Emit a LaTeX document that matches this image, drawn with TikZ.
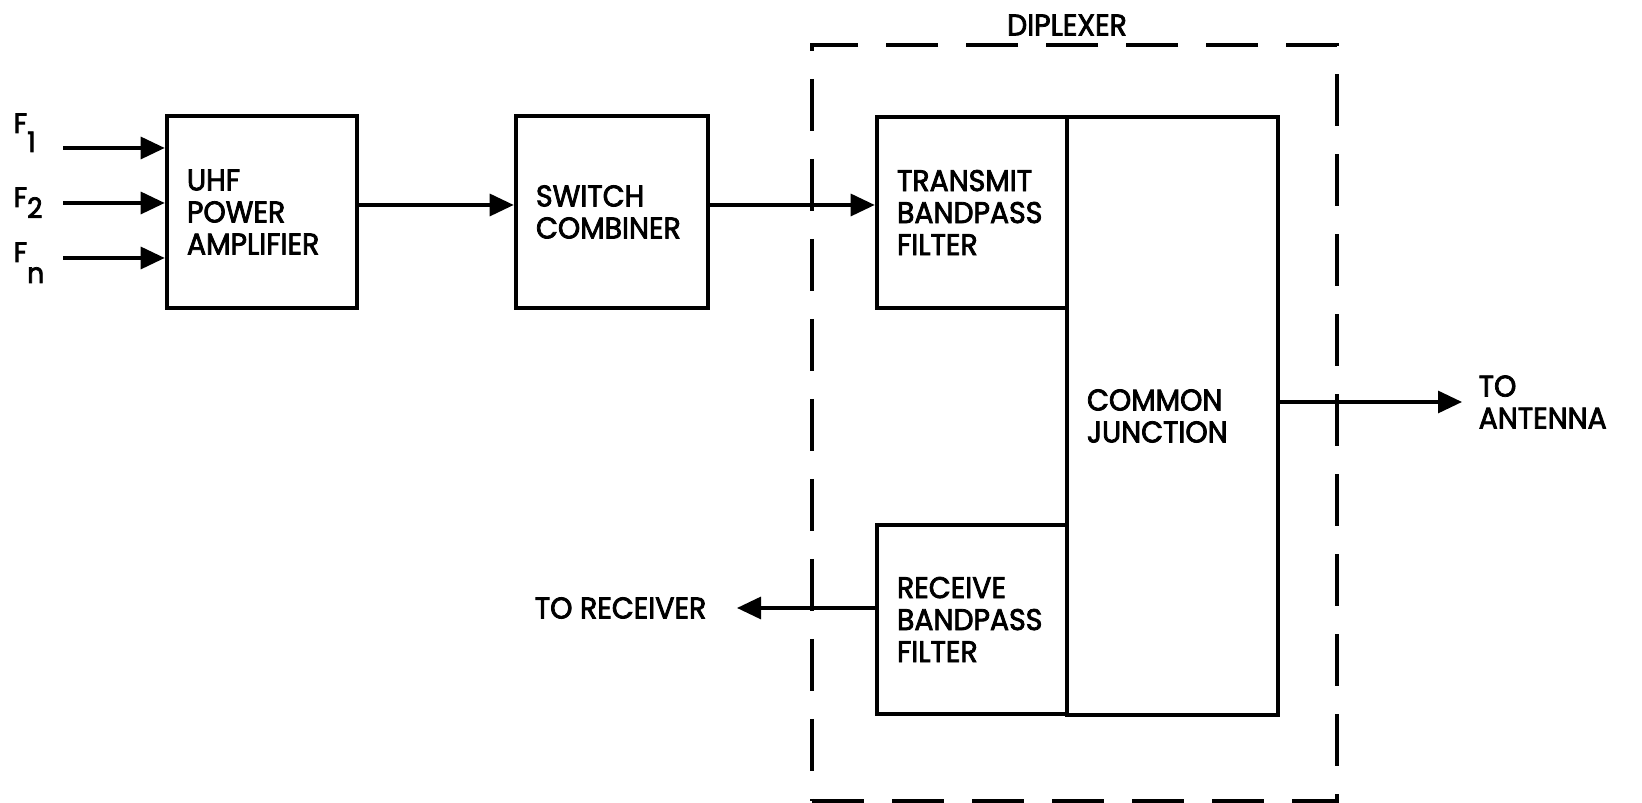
\documentclass[tikz,border=0pt]{standalone}
\usepackage{fontspec}
\setmainfont{Poppins}[FakeBold=2.6, FakeStretch=0.95]
\usetikzlibrary{arrows.meta}

\begin{document}
\begin{tikzpicture}[
    every node/.style={font=\fontsize{8.5}{9.1}\selectfont},
    >={Triangle[length=2.4mm, width=2.2mm]},
    blockbox/.style={draw, line width=1.3pt, align=left, inner xsep=0.2cm, inner ysep=0pt},
    sigline/.style={->, line width=0.9pt},
    lbl/.style={inner sep=0pt},
]
\useasboundingbox (0,0) rectangle (16.42,8.03);

% === Inputs ===
\node[lbl, anchor=base west, font=\fontsize{8}{8}\selectfont] (lf1) at (0.13,6.70) {F\raisebox{-0.19cm}{1}};
\node[lbl, anchor=base west, font=\fontsize{8}{8}\selectfont] (lf2) at (0.13,5.96) {F\raisebox{-0.11cm}{2}};
\node[lbl, anchor=base west, font=\fontsize{8}{8}\selectfont] (lfn) at (0.13,5.41) {F\raisebox{-0.21cm}{n}};
\coordinate (f1) at (0.63,6.55);
\coordinate (f2) at (0.63,6.00);
\coordinate (fn) at (0.63,5.45);

% === UHF power amplifier ===
\node[blockbox, text width=1.5cm, minimum height=1.92cm] (amp) at (2.62,5.91) {UHF\\POWER\\AMPLIFIER};

% === Switch combiner ===
\node[blockbox, text width=1.52cm, minimum height=1.92cm] (sw) at (6.12,5.91) {SWITCH\\COMBINER};

% === Diplexer ===
\node[draw, dashed, dash pattern=on 0.52cm off 0.28cm, line width=0.9pt, minimum width=5.25cm, minimum height=7.56cm, inner sep=0pt] (dip) at (10.745,3.80) {};
\node[lbl] (diplbl) at (10.67,7.78) {DIPLEXER};
\node[blockbox, text width=1.71cm, minimum height=5.98cm] (cj) at (11.725,3.87) {COMMON\\JUNCTION};
\node[blockbox, text width=1.5cm, minimum height=1.91cm] (tx) at (9.72,5.905) {TRANSMIT\\BANDPASS\\FILTER};
\node[blockbox, text width=1.5cm, minimum height=1.89cm] (rx) at (9.72,1.835) {RECEIVE\\BANDPASS\\FILTER};

% === Outputs ===
\node[lbl, anchor=east] (torx) at (7.07,1.95) {TO RECEIVER};
\node[lbl, anchor=west, align=left] (toant) at (14.78,4.01) {TO\\ANTENNA};

% === Signal paths ===
\draw[sigline] (f1) -- (f1 -| amp.west);
\draw[sigline] (f2) -- (f2 -| amp.west);
\draw[sigline] (fn) -- (fn -| amp.west);
\draw[sigline] ([yshift=0.07cm]amp.east) -- ([yshift=0.07cm]amp.east -| sw.west);
\draw[sigline] ([yshift=0.07cm]sw.east) -- ([yshift=0.07cm]sw.east -| tx.west);
\draw[sigline] (torx.east -| rx.west) -- ([xshift=0.3cm]torx.east);
\draw[sigline] (toant.west -| cj.east) -- ([xshift=-0.16cm]toant.west);

\end{tikzpicture}
\end{document}
